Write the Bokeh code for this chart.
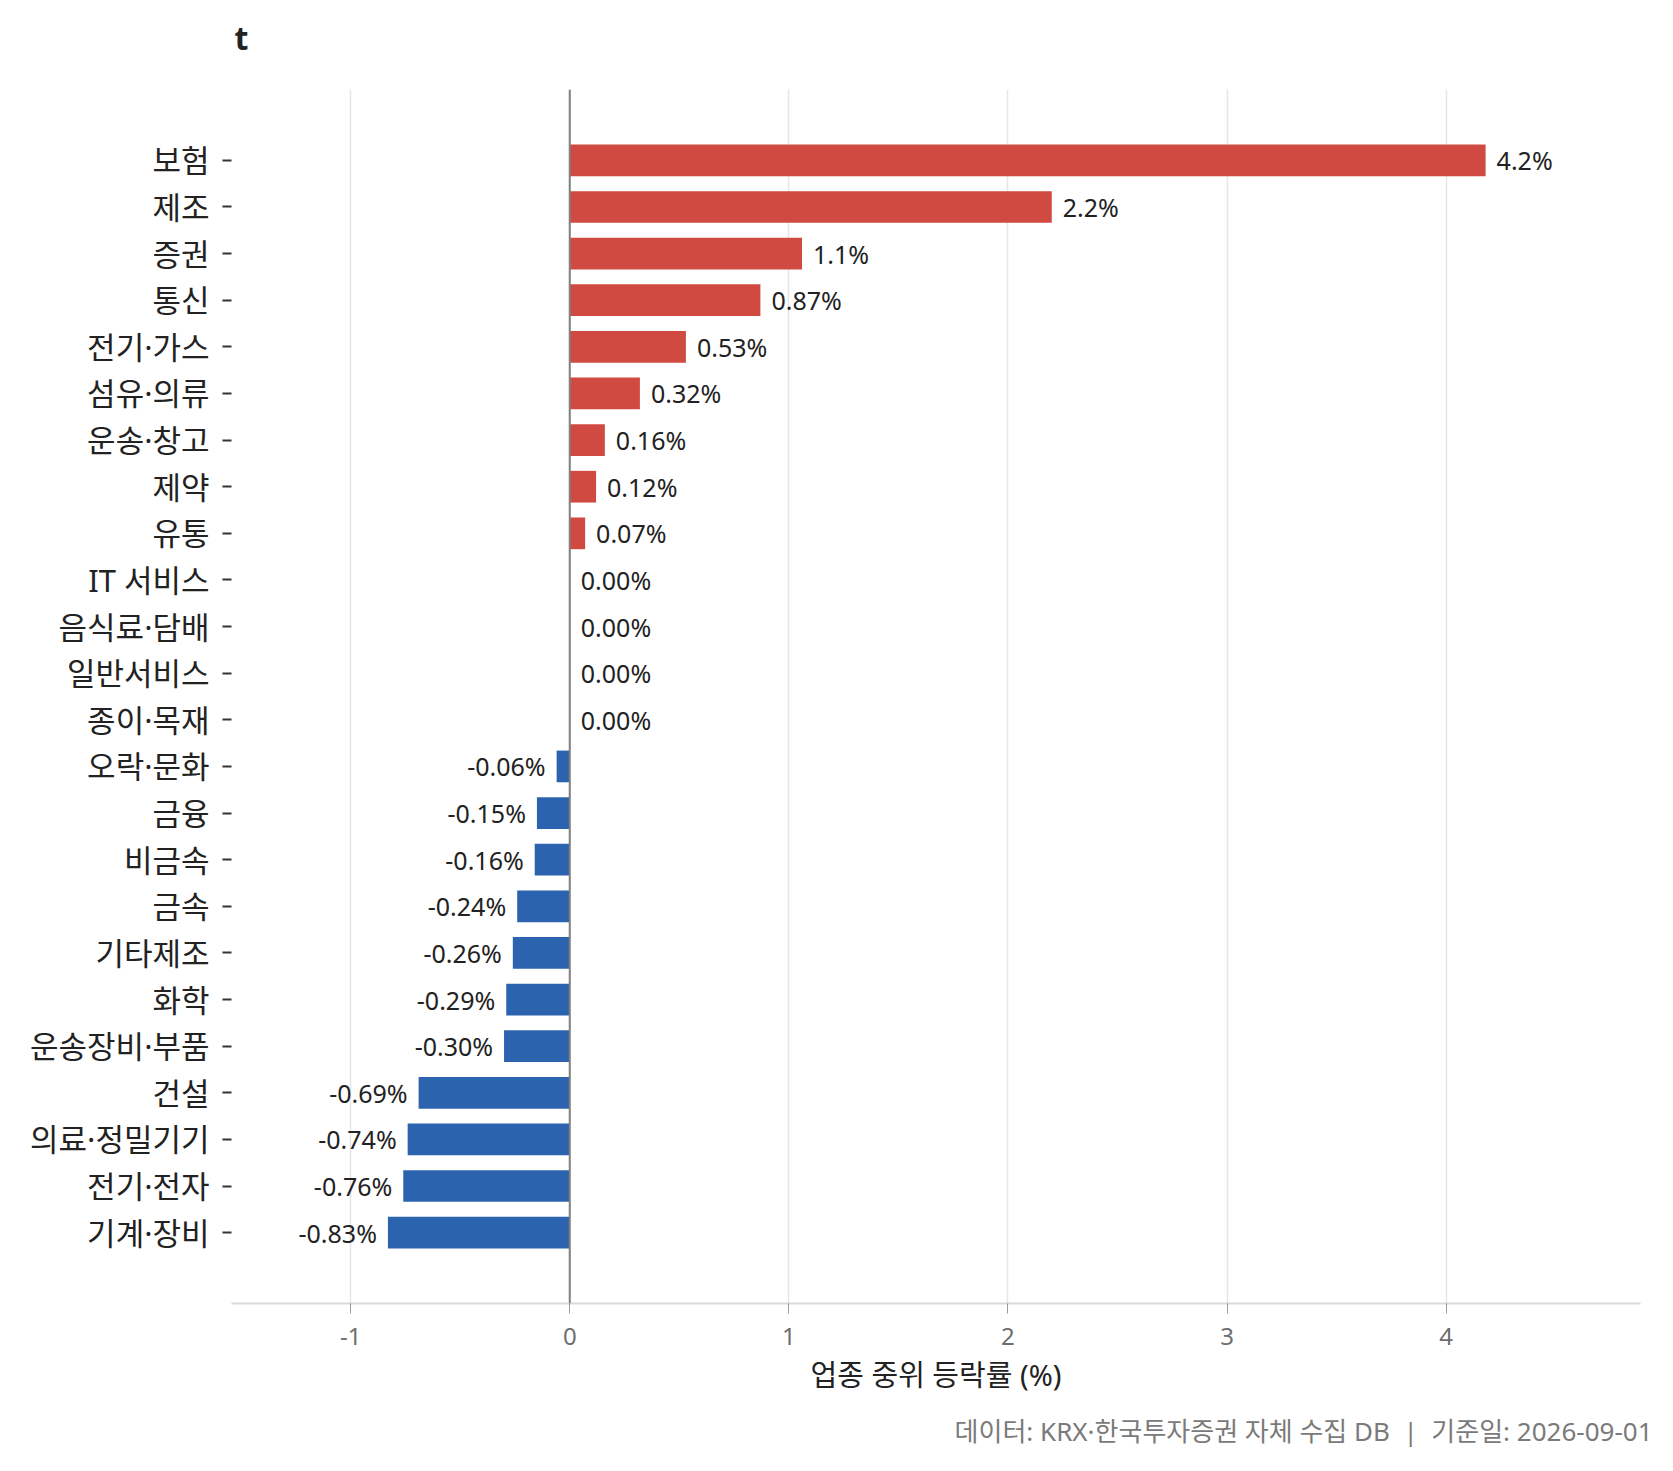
from bokeh.plotting import figure
from bokeh.models import Range1d, FixedTicker, Span, Title, ColumnDataSource
from bokeh.core.properties import value
from bokeh.embed import file_html
from bokeh.resources import INLINE

# 업종별 중위 등락률 (%), 위에서 아래 순서
sectors = ['보험', '제조', '증권', '통신', '전기·가스', '섬유·의류', '운송·창고', '제약', '유통',
           'IT 서비스', '음식료·담배', '일반서비스', '종이·목재', '오락·문화', '금융', '비금속',
           '금속', '기타제조', '화학', '운송장비·부품', '건설', '의료·정밀기기', '전기·전자', '기계·장비']
changes = [4.18, 2.2, 1.06, 0.87, 0.53, 0.32, 0.16, 0.12, 0.07,
           0.0, 0.0, 0.0, 0.0, -0.06, -0.15, -0.16,
           -0.24, -0.26, -0.29, -0.30, -0.69, -0.74, -0.76, -0.83]
x_ticks = [-1, 0, 1, 2, 3, 4]

FONT = "Noto Sans, Noto Sans CJK KR"
RED = "#D14A41"
BLUE = "#2B63AE"

pos = list(range(len(sectors)))
colors = [RED if v > 0 else BLUE for v in changes]
labels = [(f"{v:.1f}%" if abs(v) >= 1 else f"{v:.2f}%") for v in changes]

src = ColumnDataSource(dict(y=pos, x=changes, color=colors))
pos_src = ColumnDataSource(dict(y=[p for p, v in zip(pos, changes) if v >= 0],
                                x=[v for v in changes if v >= 0],
                                label=[l for l, v in zip(labels, changes) if v >= 0]))
neg_src = ColumnDataSource(dict(y=[p for p, v in zip(pos, changes) if v < 0],
                                x=[v for v in changes if v < 0],
                                label=[l for l, v in zip(labels, changes) if v < 0]))

p = figure(width=1657, height=1463, output_backend="svg", toolbar_location=None,
           x_range=Range1d(-1.544, 4.887), y_range=Range1d(len(sectors) - 1 + 1.52, -1.52),
           title=None)
p.min_border_left = 231
p.min_border_right = 17
p.min_border_top = 0
p.min_border_bottom = 20
p.outline_line_color = None
p.background_fill_color = "white"
p.border_fill_color = "white"

# 제목과 플롯 사이 여백 (가장 안쪽 패널)
spacer = Title(text=" ", text_font=FONT, text_font_size="10px", standoff=1)
p.add_layout(spacer, "above")
title = Title(text="t", text_font=FONT, text_font_size="32px", text_font_style="bold",
              text_color="#222222", offset=3, standoff=27)
p.add_layout(title, "above")

p.hbar(y='y', right='x', left=0, height=0.68, fill_color='color', line_color=None, source=src)

zero = Span(location=0, dimension='height', line_color="#808080", line_width=2)
p.add_layout(zero)

p.text(x='x', y='y', text='label', source=pos_src, x_offset=11, text_align='left',
       text_baseline='middle', text_font=value(FONT), text_font_size="25px", text_color="#222222")
p.text(x='x', y='y', text='label', source=neg_src, x_offset=-11, text_align='right',
       text_baseline='middle', text_font=value(FONT), text_font_size="25px", text_color="#222222")

# x axis
p.xaxis.ticker = FixedTicker(ticks=x_ticks)
p.xaxis.major_label_overrides = {t: str(t) for t in x_ticks}
p.xaxis.axis_label = "업종 중위 등락률 (%)"
p.xaxis.axis_label_text_font = FONT
p.xaxis.axis_label_text_font_size = "29px"
p.xaxis.axis_label_text_font_style = "normal"
p.xaxis.axis_label_text_color = "#222222"
p.xaxis.axis_label_standoff = 7
p.xaxis.major_label_text_font = FONT
p.xaxis.major_label_text_font_size = "24px"
p.xaxis.major_label_text_color = "#6e6e6e"
p.xaxis.major_label_standoff = 14
p.xaxis.axis_line_color = "#d9d9d9"
p.xaxis.axis_line_width = 2
p.xaxis.major_tick_line_color = "#9a9a9a"
p.xaxis.major_tick_out = 10
p.xaxis.major_tick_in = 0
p.xaxis.minor_tick_line_color = None

# y axis
p.yaxis.ticker = FixedTicker(ticks=pos)
p.yaxis.major_label_overrides = {i: s for i, s in enumerate(sectors)}
p.yaxis.major_label_text_font = FONT
p.yaxis.major_label_text_font_size = "31px"
p.yaxis.major_label_text_color = "#222222"
p.yaxis.major_label_standoff = 13
p.yaxis.axis_line_color = None
p.yaxis.major_tick_line_color = "#333333"
p.yaxis.major_tick_line_width = 2
p.yaxis.major_tick_out = 9
p.yaxis.major_tick_in = 0
p.yaxis.minor_tick_line_color = None

p.xgrid.ticker = FixedTicker(ticks=x_ticks)
p.xgrid.grid_line_color = "#e5e5e5"
p.xgrid.grid_line_width = 1.5
p.ygrid.grid_line_color = None

footer = Title(text="데이터: KRX·한국투자증권 자체 수집 DB \u00a0|\u00a0 기준일: 2026-09-01", align="right",
               text_font=FONT, text_font_size="26px", text_font_style="normal",
               text_color="#7a7a7a", offset=-12, standoff=29)
p.add_layout(footer, "below")

open("out.html", "w").write(file_html(p, INLINE))
